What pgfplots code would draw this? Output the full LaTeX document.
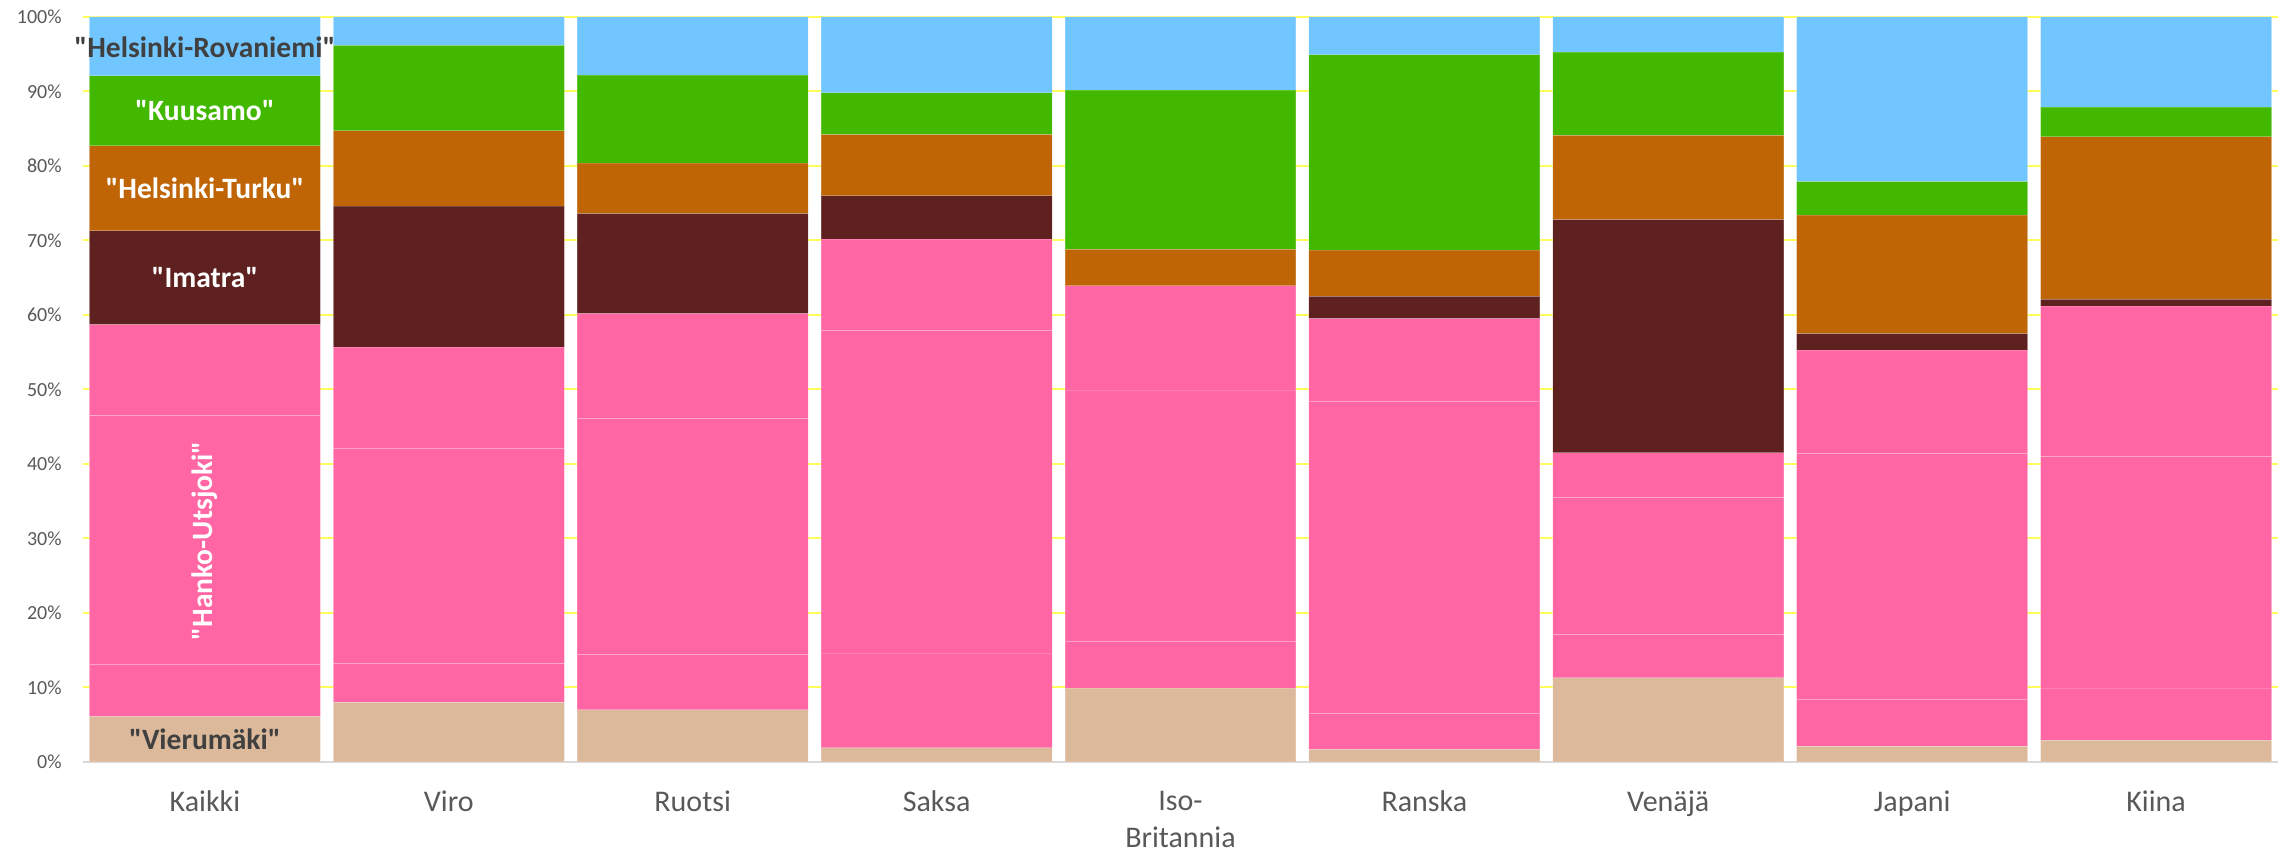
\documentclass[border=0pt]{standalone}
\usepackage{pgfplots}
\pgfplotsset{compat=1.18}
\usepackage{pgfplotstable}
\usepackage{fontspec}
\setmainfont{Carlito}
\newfontfamily\labfont{Carlito}[Ligatures=TeXOff]

\definecolor{cV}{RGB}{220,185,154}
\definecolor{cP}{RGB}{255,102,163}
\definecolor{cI}{RGB}{94,33,32}
\definecolor{cT}{RGB}{191,101,6}
\definecolor{cK}{RGB}{66,184,0}
\definecolor{cR}{RGB}{114,198,255}
\definecolor{txtgray}{RGB}{89,89,89}
\definecolor{darktxt}{RGB}{64,64,64}
\definecolor{gridyellow}{RGB}{255,255,90}
\definecolor{axisgray}{RGB}{217,217,217}

\tikzset{lab/.style={font=\labfont\bfseries\fontsize{11.8}{14}\selectfont, text=white}}

% shares in percent, bottom to top (pink split in three parts)
\pgfplotstableread{
x  V     P1    P2    P3    Im    HT    Ku    HR
0  6.1   7.0   33.4  12.2  12.6  11.4  9.4   7.9
1  8.0   5.2   28.9  13.6  18.9  10.1  11.5  3.8
2  7.0   7.4   31.7  14.1  13.4  6.8   11.8  7.8
3  1.9   12.7  43.3  12.3  5.8   8.2   5.6   10.2
4  9.9   6.3   33.7  14.0  0.0   4.9   21.4  9.8
5  1.7   4.8   41.9  11.1  3.0   6.2   26.2  5.1
6  11.3  5.8   18.4  6.0   31.3  11.3  11.2  4.7
7  2.1   6.3   33.0  13.9  2.2   15.9  4.5   22.1
8  2.9   7.0   31.1  20.2  0.9   21.8  4.0   12.1
}\shares

\begin{document}
\begin{tikzpicture}
\begin{axis}[
    scale only axis,
    width=878pt, height=298pt,
    ybar stacked,
    bar width=0.947,
    xmin=-0.5, xmax=8.5,
    ymin=0, ymax=100,
    enlargelimits=false,
    clip=false,
    axis x line*=bottom,
    axis y line*=left,
    y axis line style={draw=none},
    x axis line style={draw=axisgray, line width=0.8pt},
    major tick length=0pt,
    ymajorgrids,
    major grid style={draw=gridyellow, line width=0.8pt},
    ytick={0,10,...,100},
    yticklabel={\pgfmathprintnumber{\tick}\%},
    /pgf/number format/assume math mode=true,
    yticklabel style={font=\fontsize{8}{9}\selectfont, text=txtgray, xshift=-5pt},
    xtick={0,...,8},
    xticklabels={Kaikki,Viro,Ruotsi,Saksa,{Iso-\\Britannia},Ranska,Venäjä,Japani,Kiina},
    xticklabel style={align=center, font=\fontsize{12}{14.8}\selectfont, text=txtgray, yshift=-8pt},
    every axis plot/.append style={draw=white, draw opacity=0.18, line width=0.4pt},
]
\addplot[fill=cV] table[x=x, y=V] {\shares};
\addplot[fill=cP] table[x=x, y=P1] {\shares};
\addplot[fill=cP] table[x=x, y=P2] {\shares};
\addplot[fill=cP] table[x=x, y=P3] {\shares};
\addplot[fill=cI] table[x=x, y=Im] {\shares};
\addplot[fill=cT] table[x=x, y=HT] {\shares};
\addplot[fill=cK] table[x=x, y=Ku] {\shares};
\addplot[fill=cR] table[x=x, y=HR] {\shares};

\coordinate (lV) at (axis cs:0,3.05);
\coordinate (lP) at (axis cs:0,29.7);
\coordinate (lI) at (axis cs:0,65);
\coordinate (lT) at (axis cs:0,77);
\coordinate (lK) at (axis cs:0,87.4);
\coordinate (lR) at (axis cs:0,96);
\end{axis}
\node[lab, text=darktxt] at (lV) {"Vierumäki"};
\node[lab, rotate=90] at (lP) {"Hanko-Utsjoki"};
\node[lab] at (lI) {"Imatra"};
\node[lab] at (lT) {"Helsinki-Turku"};
\node[lab] at (lK) {"Kuusamo"};
\node[lab, text=darktxt] at (lR) {"Helsinki-Rovaniemi"};
\pgfresetboundingbox
\path ([xshift=-33.2pt,yshift=-37.6pt]current axis.south west) rectangle ([xshift=2.8pt,yshift=6.8pt]current axis.north east);
\end{tikzpicture}
\end{document}
